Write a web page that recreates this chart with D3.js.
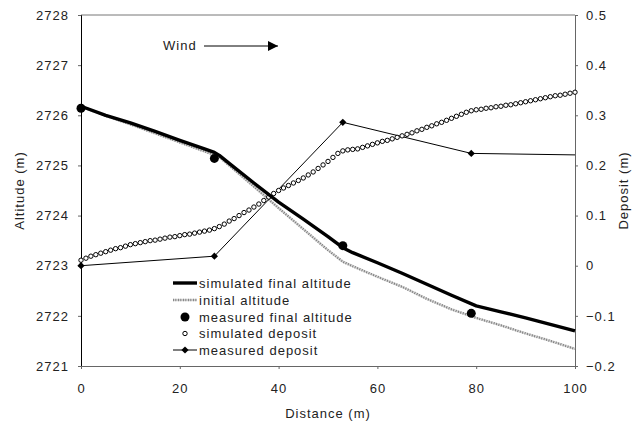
<!DOCTYPE html>
<html>
<head>
<meta charset="utf-8">
<script src="https://cdn.jsdelivr.net/npm/d3@7"></script>
<style>
  html, body { margin: 0; padding: 0; background: #fff; }
  svg { display: block; font-family: "Liberation Sans", Arial, sans-serif; }
</style>
</head>
<body>
<svg id="chart" width="644" height="426"></svg>
<script>
// ---------- data ----------
const altTicks = [2721, 2722, 2723, 2724, 2725, 2726, 2727, 2728];
const depTicks = [-0.2, -0.1, 0, 0.1, 0.2, 0.3, 0.4, 0.5];
const distTicks = [0, 20, 40, 60, 80, 100];

const simFinalDist = [0, 5, 10, 15, 20, 25, 27, 28, 30, 35, 40, 45, 50, 53, 55, 60, 65, 70, 75, 80, 85, 90, 95, 100];
const simFinalAlt  = [2726.18, 2726.0, 2725.85, 2725.68, 2725.5, 2725.33, 2725.26, 2725.2, 2725.04, 2724.65, 2724.27, 2723.93, 2723.58, 2723.36, 2723.26, 2723.06, 2722.85, 2722.63, 2722.41, 2722.2, 2722.08, 2721.96, 2721.83, 2721.7];

const initDist = [0, 5, 10, 15, 20, 25, 28, 30, 35, 40, 45, 50, 53, 55, 60, 65, 70, 75, 80, 85, 90, 95, 100];
const initAlt  = [2726.18, 2725.99, 2725.82, 2725.64, 2725.46, 2725.28, 2725.17, 2725.0, 2724.58, 2724.15, 2723.73, 2723.31, 2723.08, 2722.99, 2722.78, 2722.58, 2722.34, 2722.13, 2721.96, 2721.81, 2721.65, 2721.5, 2721.34];

const measAltDist = [0, 27, 53, 79];
const measAlt     = [2726.14, 2725.14, 2723.4, 2722.05];

const simDepDist = [0,1,2,3,4,5,6,7,8,9,10,11,12,13,14,15,16,17,18,19,20,21,22,23,24,25,26,27,28,29,30,31,32,33,34,35,36,37,38,39,40,41,42,43,44,45,46,47,48,49,50,51,52,53,54,55,56,57,58,59,60,61,62,63,64,65,66,67,68,69,70,71,72,73,74,75,76,77,78,79,80,81,82,83,84,85,86,87,88,89,90,91,92,93,94,95,96,97,98,99,100];
const simDep = [0.011,0.015,0.019,0.022,0.025,0.028,0.031,0.034,0.036,0.039,0.042,0.044,0.046,0.048,0.050,0.051,0.053,0.055,0.057,0.058,0.060,0.062,0.063,0.065,0.067,0.069,0.071,0.074,0.078,0.083,0.089,0.094,0.100,0.106,0.111,0.117,0.123,0.130,0.137,0.144,0.150,0.155,0.160,0.165,0.170,0.175,0.181,0.187,0.194,0.201,0.208,0.216,0.224,0.229,0.231,0.232,0.233,0.236,0.239,0.242,0.245,0.248,0.250,0.253,0.256,0.259,0.262,0.265,0.269,0.272,0.276,0.279,0.283,0.286,0.290,0.294,0.298,0.302,0.306,0.309,0.311,0.312,0.314,0.315,0.317,0.318,0.320,0.321,0.323,0.325,0.327,0.329,0.331,0.333,0.335,0.337,0.339,0.340,0.342,0.344,0.346];

const measDepDist = [0, 27, 53, 79, 100];
const measDep     = [0.0, 0.019, 0.286, 0.224, 0.221];
const measDepMarked = [true, true, true, true, false];

const legendLabels = ["simulated final altitude", "initial altitude", "measured final altitude", "simulated deposit", "measured deposit"];

// ---------- layout ----------
const svg = d3.select("#chart");
const pLeft = 81, pRight = 575, pTop = 15, pBottom = 366;
const textColor = "#222";

const x = d3.scaleLinear().domain([0, 100]).range([pLeft, pRight]);
const yA = d3.scaleLinear().domain([2721, 2728]).range([pBottom, pTop]);
const yD = d3.scaleLinear().domain([-0.2, 0.5]).range([pBottom, pTop]);

// frame (top border)
svg.append("line").attr("x1", pLeft).attr("x2", pRight).attr("y1", pTop).attr("y2", pTop)
  .attr("stroke", "#777").attr("stroke-width", 1);

// axes
const fmtDep = d => (d === 0 ? "0" : d3.format(".1f")(d));
const axL = svg.append("g").attr("transform", `translate(${pLeft},0)`)
  .call(d3.axisLeft(yA).tickValues(altTicks).tickSize(3).tickPadding(9).tickFormat(d3.format("d")));
const axR = svg.append("g").attr("transform", `translate(${pRight},0)`)
  .call(d3.axisRight(yD).tickValues(depTicks).tickSize(3).tickPadding(8).tickFormat(fmtDep));
const axB = svg.append("g").attr("transform", `translate(0,${pBottom})`)
  .call(d3.axisBottom(x).tickValues(distTicks).tickSize(3).tickPadding(15).tickFormat(d3.format("d")));

[axL, axR, axB].forEach(g => {
  g.select(".domain").attr("stroke", "#666");
  g.selectAll(".tick line").attr("stroke", "#666");
  g.selectAll(".tick text").attr("fill", textColor).style("font-size", "13px")
    .style("letter-spacing", "1px").style("font-family", '"Liberation Sans", Arial, sans-serif');
});
axL.select(".domain").attr("stroke", "#000");

// axis titles
svg.append("text").attr("transform", `translate(24,${(pTop + pBottom) / 2}) rotate(-90)`)
  .attr("text-anchor", "middle").attr("fill", textColor).style("font-size", "13px").style("letter-spacing", "1px")
  .text("Altitude (m)");
svg.append("text").attr("transform", `translate(628,${(pTop + pBottom) / 2}) rotate(-90)`)
  .attr("text-anchor", "middle").attr("fill", textColor).style("font-size", "13px").style("letter-spacing", "1px")
  .text("Deposit (m)");
svg.append("text").attr("x", (pLeft + pRight) / 2).attr("y", 418)
  .attr("text-anchor", "middle").attr("fill", textColor).style("font-size", "13px").style("letter-spacing", "1px")
  .text("Distance (m)");

// ---------- series ----------
const lineA = d3.line().x(d => x(d[0])).y(d => yA(d[1]));
const lineD = d3.line().x(d => x(d[0])).y(d => yD(d[1]));

const initData = initDist.map((d, i) => [d, initAlt[i]]);
const simData = simFinalDist.map((d, i) => [d, simFinalAlt[i]]);
const simDepData = simDepDist.map((d, i) => [d, simDep[i]]);
const measDepData = measDepDist.map((d, i) => [d, measDep[i]]);

function hatched(sel) {
  sel.attr("fill", "none").attr("stroke", "#d0d0d0").attr("stroke-width", 2.4);
}
function hatchedTop(sel) {
  sel.attr("fill", "none").attr("stroke", "#6a6a6a").attr("stroke-width", 2.4).attr("stroke-dasharray", "0.7,1.8");
}

// initial altitude
svg.append("path").datum(initData).attr("d", lineA).call(hatched);
svg.append("path").datum(initData).attr("d", lineA).call(hatchedTop);

// measured deposit
svg.append("path").datum(measDepData).attr("d", lineD)
  .attr("fill", "none").attr("stroke", "#000").attr("stroke-width", 1);

// simulated deposit circles
svg.append("g").selectAll("circle").data(simDepData).join("circle")
  .attr("cx", d => x(d[0])).attr("cy", d => yD(d[1])).attr("r", 2.2)
  .attr("fill", "#fff").attr("stroke", "#000").attr("stroke-width", 1);

// simulated final altitude
svg.append("path").datum(simData).attr("d", lineA)
  .attr("fill", "none").attr("stroke", "#000").attr("stroke-width", 3.4).attr("stroke-linejoin", "round");

// measured deposit diamonds (square rotated 45 degrees)
const diamond = d3.symbol().type(d3.symbolSquare).size(26);
svg.append("g").selectAll("path").data(measDepData.filter((d, i) => measDepMarked[i])).join("path")
  .attr("transform", d => `translate(${x(d[0])},${yD(d[1])}) rotate(45)`).attr("d", diamond).attr("fill", "#000");

// measured final altitude dots
svg.append("g").selectAll("circle").data(measAltDist.map((d, i) => [d, measAlt[i]])).join("circle")
  .attr("cx", d => x(d[0])).attr("cy", d => yA(d[1])).attr("r", 4.5).attr("fill", "#000");

// ---------- wind annotation ----------
svg.append("defs").append("marker").attr("id", "arrow").attr("viewBox", "0 0 10 10")
  .attr("refX", 10).attr("refY", 5).attr("markerWidth", 10).attr("markerHeight", 10)
  .attr("markerUnits", "userSpaceOnUse").attr("orient", "auto")
  .append("path").attr("d", "M0,0 L10,5 L0,10 Z").attr("fill", "#000");
svg.append("text").attr("x", 163).attr("y", 50).attr("fill", textColor)
  .style("font-size", "13px").style("letter-spacing", "1px").text("Wind");
svg.append("line").attr("x1", 204).attr("x2", 278).attr("y1", 46).attr("y2", 46)
  .attr("stroke", "#000").attr("stroke-width", 1).attr("marker-end", "url(#arrow)");

// ---------- legend ----------
const legY = [283, 300, 317, 333.5, 350];
const lx1 = 173, lx2 = 197, lxm = 185;
const leg = svg.append("g");
legendLabels.forEach((lab, i) => {
  const y = legY[i];
  if (i === 0) {
    leg.append("line").attr("x1", lx1).attr("x2", lx2).attr("y1", y).attr("y2", y)
      .attr("stroke", "#000").attr("stroke-width", 3.4);
  } else if (i === 1) {
    leg.append("line").attr("x1", lx1).attr("x2", lx2).attr("y1", y).attr("y2", y).call(hatched);
    leg.append("line").attr("x1", lx1).attr("x2", lx2).attr("y1", y).attr("y2", y).call(hatchedTop);
  } else if (i === 2) {
    leg.append("circle").attr("cx", lxm).attr("cy", y).attr("r", 4.5).attr("fill", "#000");
  } else if (i === 3) {
    leg.append("circle").attr("cx", lxm).attr("cy", y).attr("r", 2.2)
      .attr("fill", "#fff").attr("stroke", "#000").attr("stroke-width", 1);
  } else {
    leg.append("line").attr("x1", lx1).attr("x2", lx2).attr("y1", y).attr("y2", y)
      .attr("stroke", "#000").attr("stroke-width", 1);
    leg.append("path").attr("transform", `translate(${lxm},${y}) rotate(45)`).attr("d", diamond).attr("fill", "#000");
  }
  leg.append("text").attr("x", 199).attr("y", y + 4.5).attr("fill", textColor)
    .style("font-size", "13px").style("letter-spacing", "1px").text(lab);
});
</script>
</body>
</html>
